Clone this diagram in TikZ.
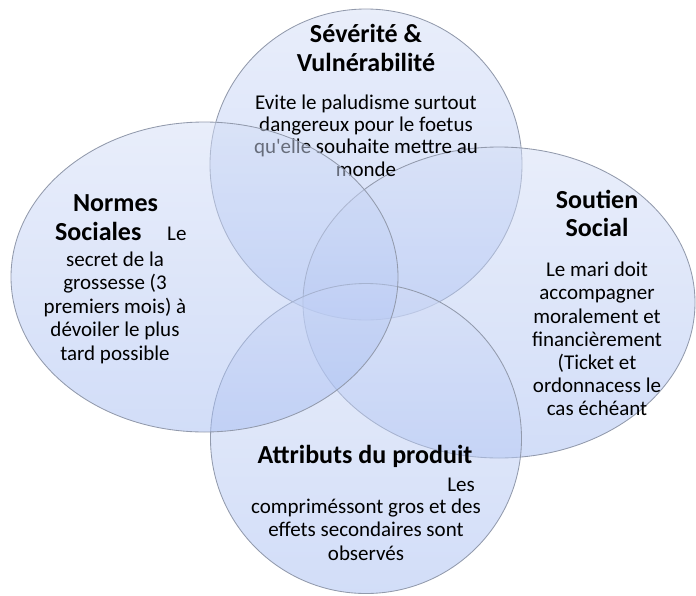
\documentclass[tikz,border=0pt]{standalone}
\usepackage{fontspec}
\setmainfont{Carlito}
\usetikzlibrary{shapes.geometric}
\definecolor{vennline}{RGB}{146,154,172}
\definecolor{venntop}{RGB}{211,221,246}
\definecolor{vennbot}{RGB}{165,188,242}
\tikzset{
  venn/.style={ellipse, draw=vennline, line width=0.85pt, top color=venntop,
    bottom color=vennbot, fill opacity=0.5, draw opacity=1, inner sep=0pt, outer sep=0pt},
  % multi-line texts are placed by the baseline of their last line
  title/.style={font=\fontsize{26}{28.3}\selectfont\bfseries, align=center,
    inner sep=0pt, anchor=base, text=black},
  body/.style={font=\fontsize{21}{23.3}\selectfont, align=center,
    inner sep=0pt, anchor=base, text=black},
}
\begin{document}
\begin{tikzpicture}[x=1pt,y=-1pt]
\useasboundingbox (0,0) rectangle (696,595);

% Sévérité & Vulnérabilité
\node[venn, minimum width=312pt, minimum height=311pt] (sev) at (366,164.5) {};
% Soutien Social
\node[venn, minimum width=392pt, minimum height=311pt] (sout) at (499,302.5) {};

\node[title] (sevT) at (366,71) {Sévérité \&\\Vulnérabilité};
\node[body, font=\fontsize{21}{22.2}\selectfont] (sevB) at (366,176)
  {Evite le paludisme surtout\\dangereux pour le foetus\\qu\textquotesingle elle souhaite mettre au\\monde};

\node[title] (soutT) at (597,236.7) {Soutien\\Social};
\node[body, font=\fontsize{21}{23.2}\selectfont] (soutB) at (597,415.9)
  {Le mari doit\\accompagner\\moralement et\\financièrement\\(Ticket et\\ordonnacess le\\cas échéant};

% Attributs du produit
\node[venn, minimum width=311pt, minimum height=310pt] (attr) at (366,438.5) {};
\node[title] (attrT) at (365,463) {Attributs du produit};
\node[body, anchor=base east] (attrL) at (475,491.7) {Les};
\node[body, font=\fontsize{21}{23.3}\selectfont] (attrB) at (366,560.1)
  {compriméssont gros et des\\effets secondaires sont\\observés};

% Normes Sociales
\node[venn, minimum width=387pt, minimum height=310pt] (norm) at (204.5,277) {};
\node[title] (normT) at (115.5,211.7) {Normes};
\node[title, anchor=base west] (normS) at (55,240) {Sociales};
\node[body, anchor=base west] (normL) at (167,240) {Le};
\node[body, font=\fontsize{21}{23.5}\selectfont] (normB) at (115,360)
  {secret de la\\grossesse (3\\premiers mois) à\\dévoiler le plus\\tard possible};
\end{tikzpicture}
\end{document}
